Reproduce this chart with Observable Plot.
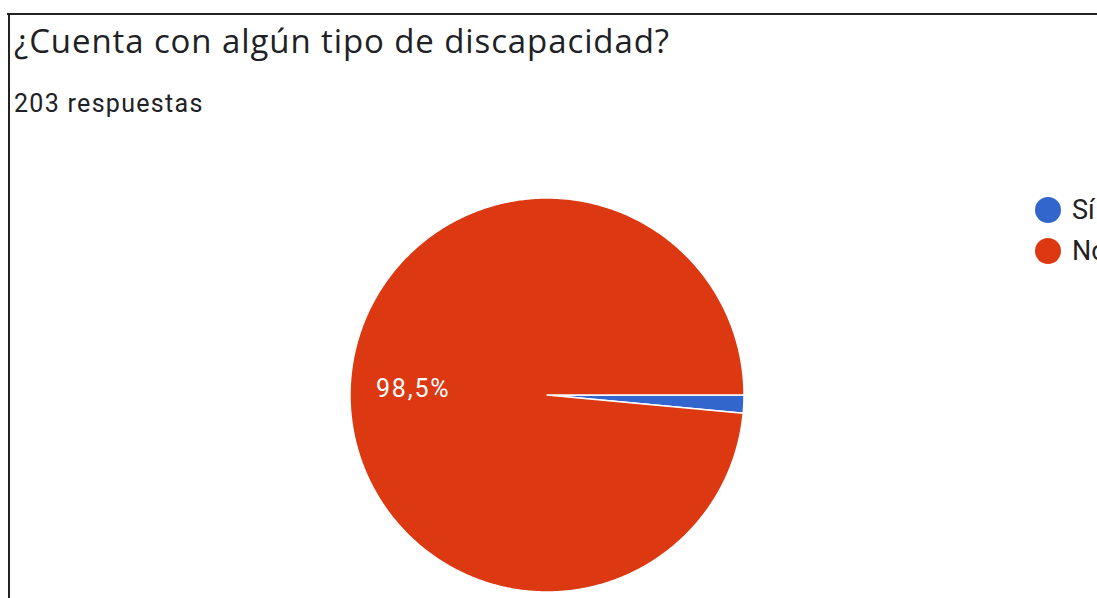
<!DOCTYPE html>
<html>
<head>
<meta charset="utf-8">
<script src="https://cdn.jsdelivr.net/npm/d3@7"></script>
<script src="https://cdn.jsdelivr.net/npm/@observablehq/plot@0.6"></script>
<style>
  html, body { margin: 0; padding: 0; background: #fff; width: 1097px; height: 598px; overflow: hidden; }
  #page { position: relative; width: 1097px; height: 598px; overflow: hidden; }
  #frameTop { position: absolute; left: 7px; top: 13px; width: 1100px; height: 2px; background: #222; }
  #frameLeft { position: absolute; left: 8px; top: 13px; width: 2px; height: 600px; background: #222; }
  #title { position: absolute; left: 14px; top: 24px; font-family: "Open Sans", sans-serif; font-size: 33px; line-height: 1; color: #202124; white-space: nowrap; letter-spacing: 0.9px; }
  #subtitle { position: absolute; left: 14px; top: 91px; font-family: Roboto, sans-serif; font-size: 25px; line-height: 1; color: #202124; white-space: nowrap; letter-spacing: 1.3px; }
  #chart { position: absolute; left: 0; top: 130px; }
  #chart text { letter-spacing: 1.8px; }
  #legend { position: absolute; left: 1035px; top: 197px; font-family: Roboto, sans-serif; font-size: 27px; color: #222; white-space: nowrap; }
  .item { display: flex; align-items: center; height: 26px; margin-bottom: 15px; }
  .swatch { width: 26px; height: 26px; border-radius: 50%; margin-right: 11px; flex: none; }
</style>
</head>
<body>
<div id="page">
  <div id="frameTop"></div>
  <div id="frameLeft"></div>
  <div id="title"></div>
  <div id="subtitle"></div>
  <div id="chart"></div>
  <div id="legend"></div>
</div>
<script>
// ---- data ----
const titleText = "¿Cuenta con algún tipo de discapacidad?";
const subtitleText = "203 respuestas";
const categories = ["Sí", "No"];
const counts = [3, 200];
const colors = ["#3366cc", "#dc3912"];

// ---- layout ----
const W = 1097, H = 468;
const cx = 546.5, cy = 264.5;   // pie centre in svg pixels
const R = 197;                  // pie radius (px)

document.getElementById("title").textContent = titleText;
document.getElementById("subtitle").textContent = subtitleText;

const rows = categories.map((c, i) => ({category: c, count: counts[i]}));
const total = d3.sum(counts);

const pie = d3.pie().sort(null).value(d => d.count)
  .startAngle(Math.PI / 2).endAngle(Math.PI / 2 + 2 * Math.PI);
const arcs = pie(rows);

// polygon outline of each slice (compass angle, clockwise from north)
const pts = [];
arcs.forEach(a => {
  const cat = a.data.category;
  pts.push({category: cat, x: 0, y: 0});
  const n = Math.max(2, Math.ceil((a.endAngle - a.startAngle) / (Math.PI / 360)));
  for (let k = 0; k <= n; ++k) {
    const t = a.startAngle + (a.endAngle - a.startAngle) * k / n;
    pts.push({category: cat, x: R * Math.sin(t), y: R * Math.cos(t)});
  }
  pts.push({category: cat, x: 0, y: 0});
});

const fmt = v => (Math.round(v * 1000) / 10).toFixed(1).replace(".", ",") + "%";
const labels = arcs
  .filter(a => a.data.count / total >= 0.05)
  .map(a => {
    const m = (a.startAngle + a.endAngle) / 2;
    return {x: 0.685 * R * Math.sin(m), y: 0.685 * R * Math.cos(m), text: fmt(a.data.count / total)};
  });

const chart = Plot.plot({
  width: W, height: H, margin: 0,
  style: {background: "transparent", overflow: "visible"},
  x: {domain: [-cx, W - cx], axis: null},
  y: {domain: [cy - H, cy], axis: null},
  color: {domain: categories, range: colors},
  marks: [
    Plot.line(pts, {x: "x", y: "y", z: "category", fill: "category", stroke: "white", strokeWidth: 1.5, strokeLinejoin: "round"}),
    Plot.text(labels, {x: "x", y: "y", text: "text", fill: "white", fontSize: 25, fontFamily: "Roboto, sans-serif", dx: 1})
  ]
});
document.getElementById("chart").appendChild(chart);

// legend
const legend = document.getElementById("legend");
categories.forEach((c, i) => {
  const it = document.createElement("div");
  it.className = "item";
  const sw = document.createElement("span");
  sw.className = "swatch";
  sw.style.background = colors[i];
  const tx = document.createElement("span");
  tx.textContent = c;
  it.appendChild(sw); it.appendChild(tx);
  legend.appendChild(it);
});
</script>
</body>
</html>
